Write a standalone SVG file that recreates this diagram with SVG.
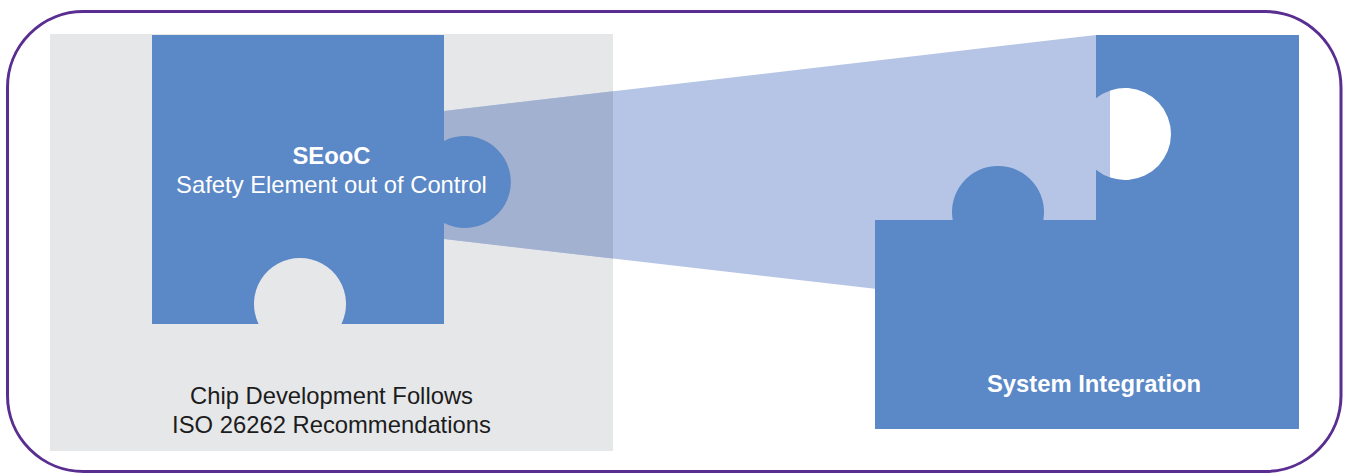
<svg xmlns="http://www.w3.org/2000/svg" width="1351" height="475" viewBox="0 0 1351 475">
<style>
.piece{fill:#5b88c6}
.t{font-family:"Liberation Sans",Arial,sans-serif;font-size:23.8px;text-anchor:middle}
.w{fill:#ffffff}
.b{font-weight:bold}
.d{fill:#1c1c1c}
</style>
<rect x="0" y="0" width="1351" height="475" fill="#ffffff"/>
<g id="frame">
<rect x="7.5" y="11.5" width="1333.5" height="460" rx="76" ry="76" fill="none" stroke="#5a2d91" stroke-width="3"/>
</g>
<g id="chip-area">
<rect x="50" y="34" width="563" height="417" fill="#e6e7e9"/>
<text class="t d" x="331.5" y="404">Chip Development Follows</text>
<text class="t d" x="331.5" y="433">ISO 26262 Recommendations</text>
</g>
<g id="connectors">
<polygon points="440,111.5 1096,35 1110,35 1110,316 440,238.5" fill="#b6c5e6"/>
<polygon points="440,111.5 613,91.3 613,258.6 440,238.5" fill="#a3b1d1"/>
</g>
<g id="seooc">
<path class="piece" d="M152,35 H444 V141 A46,46 0 1 1 444,223 V324 H341.4 A46,46 0 1 0 258.6,324 H152 Z"/>
<text class="t w b" x="331.5" y="164">SEooC</text>
<text class="t w" x="331.5" y="193">Safety Element out of Control</text>
</g>
<g id="system-integration">
<path class="piece" d="M1096,35 H1299 V429 H875 V220 H952.7 A46,46 0 1 1 1043.3,220 H1096 V169.7 A46,46 0 1 0 1096,98.3 Z"/>
<text class="t w b" x="1094" y="392">System Integration</text>
</g>
</svg>
